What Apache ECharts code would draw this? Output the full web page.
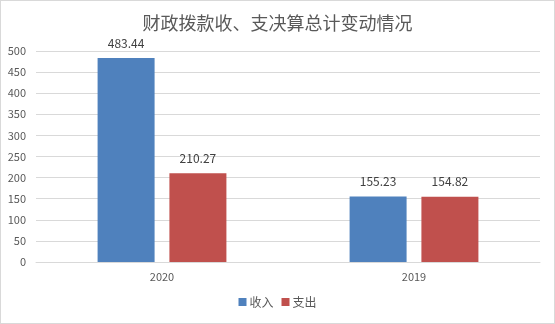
<!DOCTYPE html>
<html>
<head>
<meta charset="utf-8">
<script src="https://cdn.jsdelivr.net/npm/echarts@6/dist/echarts.min.js"></script>
<style>
  html, body { margin: 0; padding: 0; background: #fff; }
  #chart { width: 553px; height: 322px; border: 1px solid #d9d9d9; }
</style>
</head>
<body>
<div id="chart"></div>
<script>
// Year categories and the two series of totals
const years = ['2020', '2019'];
const income = [483.44, 155.23];
const expense = [210.27, 154.82];
const seriesNames = ['收入', '支出'];

const chart = echarts.init(document.getElementById('chart'));
const font = '"Microsoft YaHei", "Noto Sans CJK SC", sans-serif';

const labelStyle = {
  show: true,
  position: 'top',
  color: '#404040',
  fontSize: 12,
  fontFamily: font,
  distance: 9
};

chart.setOption({
  animation: false,
  title: {
    text: '财政拨款收、支决算总计变动情况',
    left: 'center',
    top: 8,
    textStyle: { color: '#595959', fontSize: 18, fontWeight: 'normal', fontFamily: font }
  },
  legend: {
    data: seriesNames,
    bottom: 10,
    left: 'center',
    itemWidth: 8,
    itemHeight: 8,
    itemGap: 8,
    icon: 'rect',
    textStyle: { color: '#595959', fontSize: 12, fontFamily: font, padding: [0, 0, 0, -2] }
  },
  grid: { left: 35, right: 14, top: 50, bottom: 61, containLabel: false },
  xAxis: {
    type: 'category',
    data: years,
    axisLine: { lineStyle: { color: '#d9d9d9' } },
    axisTick: { show: false },
    axisLabel: { color: '#595959', fontSize: 11, fontFamily: font, margin: 9 }
  },
  yAxis: {
    type: 'value',
    min: 0,
    max: 500,
    interval: 50,
    axisLine: { show: false },
    axisTick: { show: false },
    axisLabel: { color: '#595959', fontSize: 11, fontFamily: font, margin: 10 },
    splitLine: { lineStyle: { color: '#d9d9d9' } }
  },
  series: [
    {
      name: seriesNames[0],
      type: 'bar',
      data: income,
      barWidth: 57,
      barGap: '26%',
      itemStyle: { color: '#4f81bd' },
      label: labelStyle
    },
    {
      name: seriesNames[1],
      type: 'bar',
      data: expense,
      barWidth: 57,
      barGap: '26%',
      itemStyle: { color: '#c0504d' },
      label: labelStyle
    }
  ]
});
</script>
</body>
</html>
